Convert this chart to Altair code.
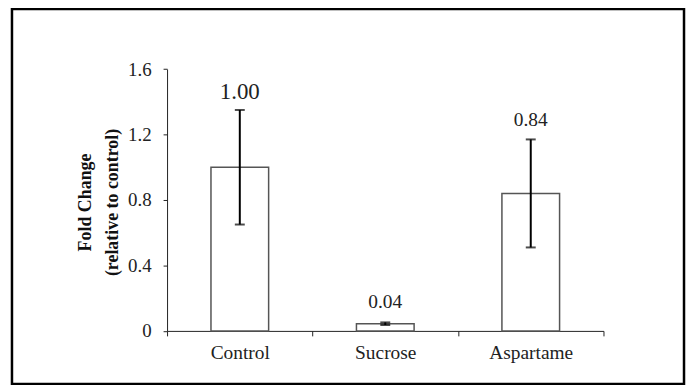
import altair as alt
import pandas as pd

categories = ["Control", "Sucrose", "Aspartame"]
fold_change = [1.00, 0.044, 0.84]
errors = [0.35, 0.008, 0.33]
value_labels = ["1.00", "0.04", "0.84"]
y_ticks = [0, 0.4, 0.8, 1.2, 1.6]

df = pd.DataFrame({"cat": categories, "val": fold_change, "err": errors, "lab": value_labels})

FONT = "Liberation Serif"
TXT = "#222222"
W, H = 676, 377
X0, X1 = 156, 595
Y0, Y1 = 323.7, 60.3

xscale = alt.Scale(domain=categories, range=[X0, X1], paddingInner=0, paddingOuter=0)
xaxis = alt.Axis(orient="bottom", offset=Y0 - H, title=None, labelAngle=0, tickBand="extent",
                 tickSize=5, tickColor="#222222", domainColor="#222222", labelFont=FONT,
                 labelFontSize=19.5, labelColor=TXT, labelPadding=8, grid=False)
yscale = alt.Scale(domain=[0, 1.6], range=[Y0, Y1], nice=False, zero=True)
yaxis = alt.Axis(orient="left", offset=-X0, values=y_ticks, format="~g", tickSize=4,
                 tickColor="#222222", domainColor="#222222", labelFont=FONT, labelFontSize=19,
                 labelColor=TXT, labelPadding=12, grid=False,
                 title=["Fold Change", "(relative to control)"], titleFont=FONT,
                 titleFontSize=18, titleFontWeight="bold", titleColor="#111111",
                 titleAngle=-90, titleX=-77, titleY=194, titleAlign="center",
                 titleBaseline="alphabetic", titleLineHeight=26.7)

x = alt.X("cat:N", scale=xscale, axis=xaxis, sort=categories)

base = alt.Chart(df).transform_calculate(lo="datum.val - datum.err", hi="datum.val + datum.err")

bars = base.mark_bar(size=58, fill="white", stroke="#555555", strokeWidth=1.5).encode(
    x=x, y=alt.Y("val:Q", scale=yscale, axis=yaxis)
)
rule = base.mark_rule(color="black", strokeWidth=2).encode(
    x=x, y=alt.Y("lo:Q", scale=yscale, axis=yaxis), y2="hi:Q"
)
cap_hi = base.mark_tick(color="black", size=10, thickness=2).encode(
    x=x, y=alt.Y("hi:Q", scale=yscale, axis=yaxis)
)
cap_lo = base.mark_tick(color="black", size=10, thickness=2).encode(
    x=x, y=alt.Y("lo:Q", scale=yscale, axis=yaxis)
)
lab_small = base.transform_filter("datum.cat != 'Control'").mark_text(
    font=FONT, fontSize=19.5, color=TXT, baseline="alphabetic", dy=-14
).encode(x=x, y=alt.Y("hi:Q", scale=yscale, axis=yaxis), text="lab:N")
lab_big = base.transform_filter("datum.cat == 'Control'").mark_text(
    font=FONT, fontSize=23, color=TXT, baseline="alphabetic", dy=-11
).encode(x=x, y=alt.Y("hi:Q", scale=yscale, axis=yaxis), text="lab:N")

chart = alt.layer(bars, rule, cap_hi, cap_lo, lab_small, lab_big).properties(
    width=W, height=H,
    autosize=alt.AutoSizeParams(type="none"),
    padding={"left": 4, "top": 0, "right": 2, "bottom": 0},
).configure_view(stroke="black", strokeWidth=2.5, fill="white")

chart.save("out.html", embed_options={"renderer": "svg", "actions": False})
